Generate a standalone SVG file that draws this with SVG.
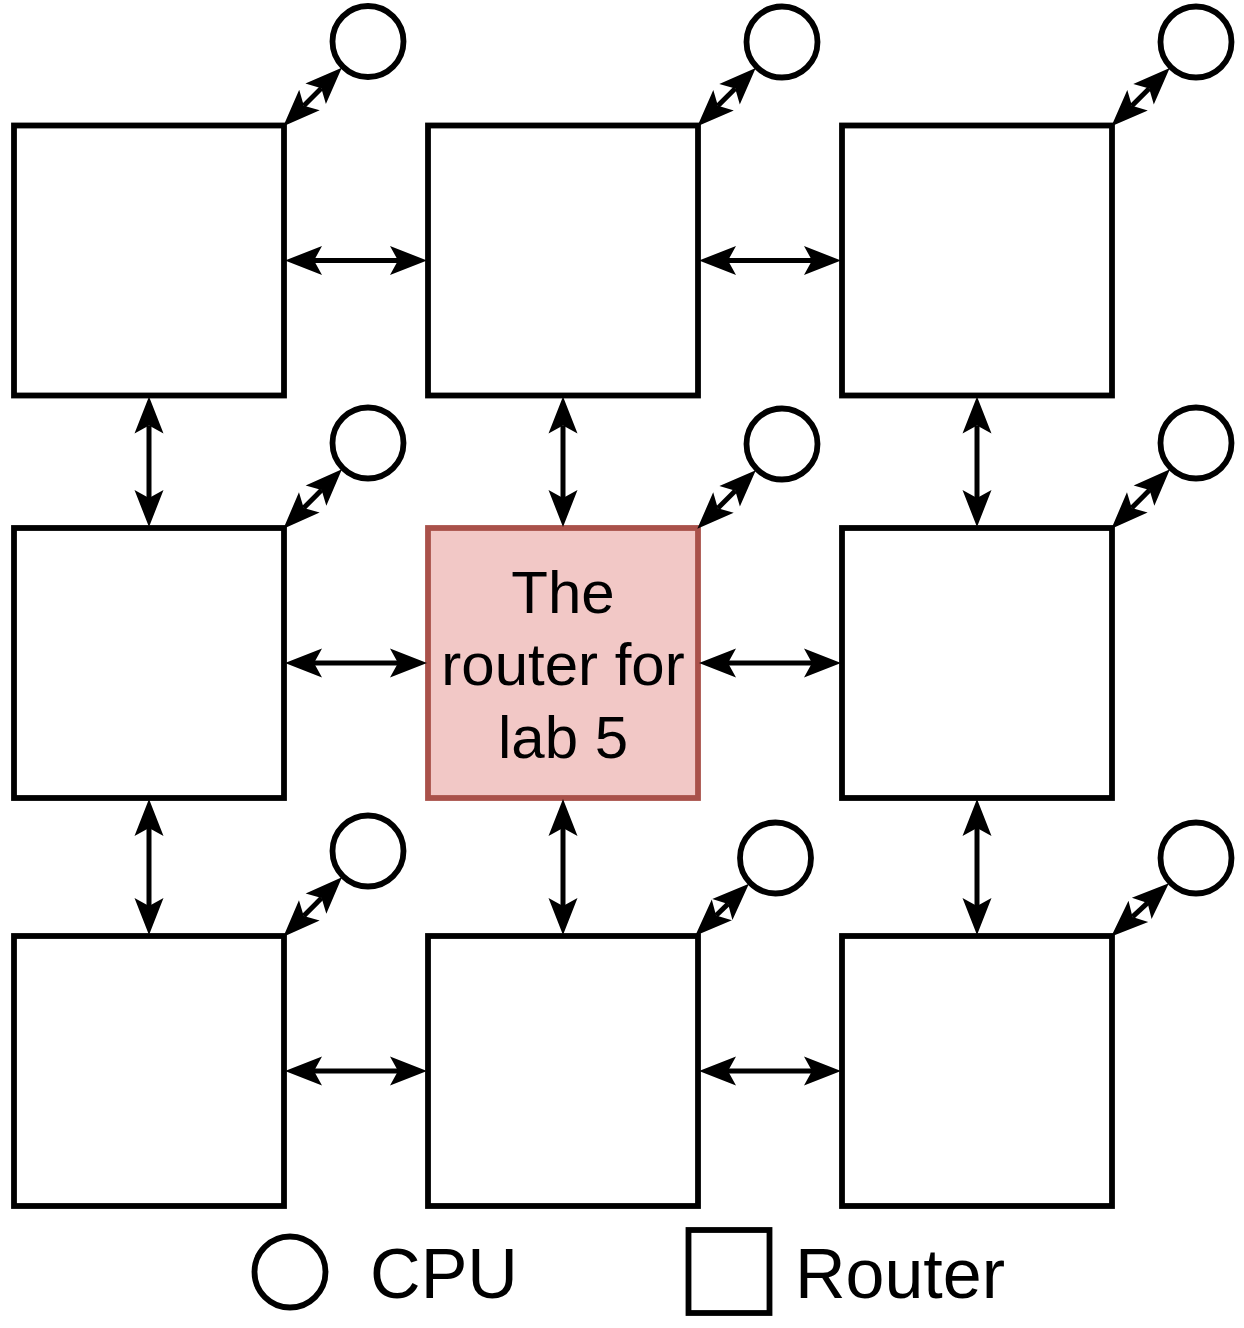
<svg xmlns="http://www.w3.org/2000/svg" width="1244" height="1328" viewBox="0 0 1244 1328">
<style>
.router{fill:#ffffff;stroke:#000000;stroke-width:5.8}
.lab{fill:#f2c8c6;stroke:#a9514a;stroke-width:5.8}
.cpu{fill:#ffffff;stroke:#000000;stroke-width:5.8}
.link{fill:none;stroke:#000000;stroke-width:5;marker-start:url(#ah);marker-end:url(#ah)}
.t{font-family:"Liberation Sans",Arial,Helvetica,sans-serif;fill:#000000;text-anchor:middle}
</style>
<defs>
<marker id="ah" viewBox="0 -14 37 28" refX="8" refY="0" markerWidth="37" markerHeight="28" markerUnits="userSpaceOnUse" orient="auto-start-reverse" overflow="visible">
<path d="M0,-14.5 L37,0 L0,14.5 L8,0 Z" fill="#000000"/>
</marker>
</defs>
<rect width="1244" height="1328" fill="#ffffff"/>
<g id="routers">
<g id="r11"><rect class="router" x="14" y="125.5" width="270" height="270"/></g>
<g id="r12"><rect class="router" x="428" y="125.5" width="270" height="270"/></g>
<g id="r13"><rect class="router" x="842" y="125.5" width="270" height="270"/></g>
<g id="r21"><rect class="router" x="14" y="528" width="270" height="270"/></g>
<g id="r22"><rect class="lab" x="428" y="528" width="270" height="270"/>
<text class="t" font-size="60"><tspan x="563" y="613">The</tspan><tspan x="563" y="685">router for</tspan><tspan x="563" y="758">lab 5</tspan></text></g>
<g id="r23"><rect class="router" x="842" y="528" width="270" height="270"/></g>
<g id="r31"><rect class="router" x="14" y="936" width="270" height="270"/></g>
<g id="r32"><rect class="router" x="428" y="936" width="270" height="270"/></g>
<g id="r33"><rect class="router" x="842" y="936" width="270" height="270"/></g>
</g>
<g id="cpus">
<g id="c11"><circle class="cpu" cx="368" cy="41.5" r="35.5"/></g>
<g id="c12"><circle class="cpu" cx="782" cy="42" r="35.5"/></g>
<g id="c13"><circle class="cpu" cx="1196" cy="42" r="35.5"/></g>
<g id="c21"><circle class="cpu" cx="368" cy="443" r="35.5"/></g>
<g id="c22"><circle class="cpu" cx="782" cy="444" r="35.5"/></g>
<g id="c23"><circle class="cpu" cx="1196" cy="443" r="35.5"/></g>
<g id="c31"><circle class="cpu" cx="368" cy="851" r="35.5"/></g>
<g id="c32"><circle class="cpu" cx="775.5" cy="858" r="35.5"/></g>
<g id="c33"><circle class="cpu" cx="1196" cy="858" r="35.5"/></g>
</g>
<g id="connectors">
<line class="link" x1="314" y1="260.5" x2="398" y2="260.5"/>
<line class="link" x1="728" y1="260.5" x2="812" y2="260.5"/>
<line class="link" x1="314" y1="663" x2="398" y2="663"/>
<line class="link" x1="728" y1="663" x2="812" y2="663"/>
<line class="link" x1="314" y1="1071" x2="398" y2="1071"/>
<line class="link" x1="728" y1="1071" x2="812" y2="1071"/>
<line class="link" x1="149" y1="425.5" x2="149" y2="498"/>
<line class="link" x1="563" y1="425.5" x2="563" y2="498"/>
<line class="link" x1="977" y1="425.5" x2="977" y2="498"/>
<line class="link" x1="149" y1="828" x2="149" y2="906"/>
<line class="link" x1="563" y1="828" x2="563" y2="906"/>
<line class="link" x1="977" y1="828" x2="977" y2="906"/>
<line class="link" x1="303.8" y1="105.7" x2="321.3" y2="88.2"/>
<line class="link" x1="717.9" y1="105.8" x2="735.2" y2="88.5"/>
<line class="link" x1="1131.9" y1="105.8" x2="1149.2" y2="88.5"/>
<line class="link" x1="303.7" y1="508.1" x2="321.6" y2="489.9"/>
<line class="link" x1="717.8" y1="508.2" x2="735.3" y2="490.7"/>
<line class="link" x1="1131.7" y1="508.1" x2="1149.6" y2="489.9"/>
<line class="link" x1="303.7" y1="916.1" x2="321.6" y2="897.9"/>
<line class="link" x1="716.1" y1="915.5" x2="728.1" y2="903.9"/>
<line class="link" x1="1132.5" y1="916.9" x2="1147.6" y2="902.9"/>
</g>
<g id="legend">
<g id="legend-cpu"><circle class="cpu" cx="290" cy="1272" r="35.5"/>
<text class="t" x="444" y="1298" font-size="70">CPU</text></g>
<g id="legend-router"><rect class="router" x="688.5" y="1230" width="81" height="83"/>
<text class="t" x="900" y="1298" font-size="70">Router</text></g>
</g>
</svg>
